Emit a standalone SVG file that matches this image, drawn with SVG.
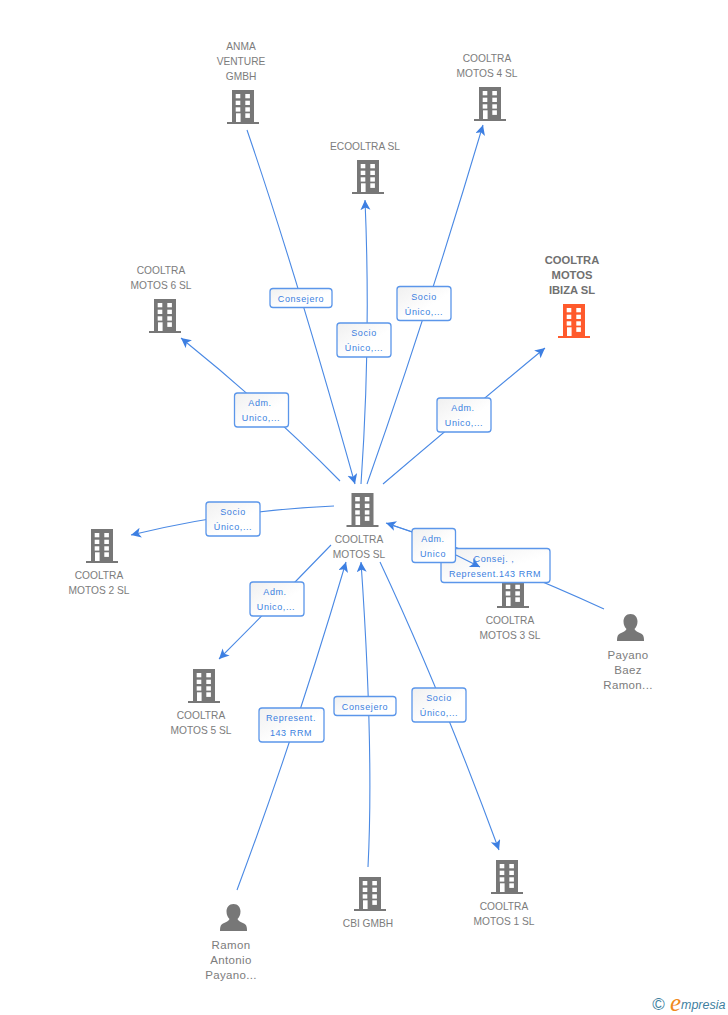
<svg xmlns="http://www.w3.org/2000/svg" width="728" height="1015" viewBox="0 0 728 1015">
<style>
.n{font:10.2px "Liberation Sans",Arial,sans-serif;fill:#7c7c7c;text-anchor:middle}
.p{font:11.5px "Liberation Sans",Arial,sans-serif;fill:#7c7c7c;text-anchor:middle;letter-spacing:.35px}
.b{font:bold 11.2px "Liberation Sans",Arial,sans-serif;fill:#707070;text-anchor:middle}
.l{font:9px "Liberation Sans",Arial,sans-serif;fill:#3c7fe0;text-anchor:middle;letter-spacing:.6px}
.c{fill:none;stroke:#4a89e4;stroke-width:1.1}
.r{fill:url(#g);stroke:#5b96ea;stroke-width:1.3}
.w{fill:#fff}
</style>
<defs>
<linearGradient id="g" x1="0" y1="0" x2="1" y2="1"><stop offset="0" stop-color="#f0f0f0"/><stop offset=".6" stop-color="#fff"/><stop offset="1" stop-color="#fff"/></linearGradient>
<marker id="a" markerUnits="userSpaceOnUse" markerWidth="12" markerHeight="12" refX="10" refY="5" orient="auto"><path d="M0 0L10 5L0 10L2.5 5Z" fill="#3d7fe2"/></marker>
<g id="bld"><path d="M5 0H27V32H32V34H0V32H5Z"/><g class="w"><rect x="8.7" y="4" width="4.6" height="4.3"/><rect x="18.3" y="4" width="4.6" height="4.3"/><rect x="8.7" y="10.7" width="4.6" height="4.3"/><rect x="18.3" y="10.7" width="4.6" height="4.3"/><rect x="8.7" y="17.3" width="4.6" height="4.3"/><rect x="18.3" y="17.3" width="4.6" height="4.3"/><rect x="9" y="23.3" width="4.6" height="8.7"/><rect x="18.3" y="23.3" width="4.6" height="4.6"/></g></g>
<path id="per" d="M13.5 0C18 0 20.5 3.5 20.5 7.5C20.5 11 19 13.5 17.5 15C18 17 21 18 24 19.5C26 20.5 27 22 27 27H0C0 22 1 20.5 3 19.5C6 18 9 17 9.5 15C8 13.5 6.5 11 6.5 7.5C6.5 3.5 9 0 13.5 0Z"/>
</defs>
<g id="connectors">
<path class="c" marker-end="url(#a)" d="M247 130Q295 270 355 484"/>
<path class="c" marker-end="url(#a)" d="M361 484Q371 340 365 200"/>
<path class="c" marker-end="url(#a)" d="M367 484Q425 320 483 125"/>
<path class="c" marker-end="url(#a)" d="M383 484Q470 410 545 348"/>
<path class="c" marker-end="url(#a)" d="M340 481Q268 408 181 338"/>
<path class="c" marker-end="url(#a)" d="M334 506Q235 510 131 535"/>
<path class="c" marker-end="url(#a)" d="M331 545Q275 603 219 659"/>
<path class="c" marker-end="url(#a)" d="M237 890Q295 735 346 562"/>
<path class="c" marker-end="url(#a)" d="M368 867Q374 750 361 562"/>
<path class="c" marker-end="url(#a)" d="M380 562Q440 690 499 850"/>
<path class="c" marker-end="url(#a)" d="M604 609Q490 557 386 523"/>
</g>
<g id="labels">
<g><rect class="r" x="270" y="288.5" width="62" height="19" rx="3"/><text class="l" x="301" y="302">Consejero</text></g>
<g><rect class="r" x="337" y="323" width="54" height="34" rx="3"/><text class="l" x="364" y="336">Socio</text><text class="l" x="364" y="351">Único,...</text></g>
<g><rect class="r" x="397" y="286.5" width="54" height="34" rx="3"/><text class="l" x="424" y="300">Socio</text><text class="l" x="424" y="315">Único,...</text></g>
<g><rect class="r" x="234.5" y="393" width="54" height="34" rx="3"/><text class="l" x="260" y="406">Adm.</text><text class="l" x="261" y="421">Unico,...</text></g>
<g><rect class="r" x="437" y="398" width="54" height="34" rx="3"/><text class="l" x="463" y="411">Adm.</text><text class="l" x="464" y="426">Unico,...</text></g>
<g><rect class="r" x="206" y="502" width="54" height="34" rx="3"/><text class="l" x="233" y="515">Socio</text><text class="l" x="233" y="530">Único,...</text></g>
<g><rect class="r" x="250" y="582" width="54" height="34" rx="3"/><text class="l" x="275" y="595">Adm.</text><text class="l" x="276" y="610">Unico,...</text></g>
<g><rect class="r" x="259" y="708" width="65" height="34" rx="3"/><text class="l" x="291" y="721">Represent.</text><text class="l" x="291" y="736">143 RRM</text></g>
<g><rect class="r" x="334" y="696.5" width="62" height="19" rx="3"/><text class="l" x="365" y="710">Consejero</text></g>
<g><rect class="r" x="412" y="688" width="54" height="34" rx="3"/><text class="l" x="439" y="701">Socio</text><text class="l" x="439" y="716">Único,...</text></g>
</g>
<g id="n-cooltra-3"><use href="#bld" x="497" y="574" fill="#777"/><text class="n" x="510" y="624">COOLTRA</text><text class="n" x="510" y="639">MOTOS 3 SL</text></g>
<g id="labels-top">
<g><rect class="r" x="441" y="548.5" width="109" height="34" rx="3"/><text class="l" x="494" y="562">Consej. ,</text><text class="l" x="495" y="577">Represent.143 RRM</text></g>
<g><rect class="r" x="412" y="528.5" width="43.5" height="34" rx="3"/><text class="l" x="433" y="542">Adm.</text><text class="l" x="433" y="557">Unico</text></g>
</g>
<g id="connectors-top">
<path class="c" marker-end="url(#a)" d="M456 555L480 567"/>
<path class="c" d="M412 532L390 524.5"/>
</g>
<g id="n-anma"><use href="#bld" x="227" y="90" fill="#777"/><text class="n" x="241" y="50">ANMA</text><text class="n" x="241" y="65">VENTURE</text><text class="n" x="241" y="80">GMBH</text></g>
<g id="n-ecooltra"><use href="#bld" x="352" y="160" fill="#777"/><text class="n" x="365" y="150">ECOOLTRA SL</text></g>
<g id="n-cooltra-4"><use href="#bld" x="474" y="87" fill="#777"/><text class="n" x="487" y="62">COOLTRA</text><text class="n" x="487" y="77">MOTOS 4 SL</text></g>
<g id="n-ibiza"><use href="#bld" x="558" y="304" fill="#ff5a2c"/><text class="b" x="572" y="264">COOLTRA</text><text class="b" x="572" y="279">MOTOS</text><text class="b" x="572" y="294">IBIZA SL</text></g>
<g id="n-cooltra-6"><use href="#bld" x="149" y="299" fill="#777"/><text class="n" x="161" y="274">COOLTRA</text><text class="n" x="161" y="289">MOTOS 6 SL</text></g>
<g id="n-center"><use href="#bld" x="346.5" y="493" fill="#777"/><text class="n" x="359" y="543">COOLTRA</text><text class="n" x="359" y="558">MOTOS SL</text></g>
<g id="n-cooltra-2"><use href="#bld" x="86" y="529" fill="#777"/><text class="n" x="99" y="579">COOLTRA</text><text class="n" x="99" y="594">MOTOS 2 SL</text></g>
<g id="n-cooltra-5"><use href="#bld" x="188" y="669" fill="#777"/><text class="n" x="201" y="719">COOLTRA</text><text class="n" x="201" y="734">MOTOS 5 SL</text></g>
<g id="n-cbi"><use href="#bld" x="354" y="877" fill="#777"/><text class="n" x="368" y="927">CBI GMBH</text></g>
<g id="n-cooltra-1"><use href="#bld" x="491" y="860" fill="#777"/><text class="n" x="504" y="910">COOLTRA</text><text class="n" x="504" y="925">MOTOS 1 SL</text></g>
<g id="n-payano"><use href="#per" x="617" y="614" fill="#777"/><text class="p" x="628" y="659">Payano</text><text class="p" x="628" y="674">Baez</text><text class="p" x="628" y="689">Ramon...</text></g>
<g id="n-ramon"><use href="#per" x="220" y="904" fill="#777"/><text class="p" x="231" y="949">Ramon</text><text class="p" x="231" y="964">Antonio</text><text class="p" x="231" y="979">Payano...</text></g>
<g id="logo"><text x="658.5" y="1010" font-family="Liberation Sans,sans-serif" font-size="17" fill="#3f7f9f" text-anchor="middle">©</text><text x="670" y="1011" font-family="Liberation Serif,serif" font-style="italic" font-size="25" fill="#f08a1d">e</text><text x="681" y="1009" font-family="Liberation Sans,sans-serif" font-style="italic" font-size="12.5" fill="#3f7f9f">mpresia</text></g>
</svg>
